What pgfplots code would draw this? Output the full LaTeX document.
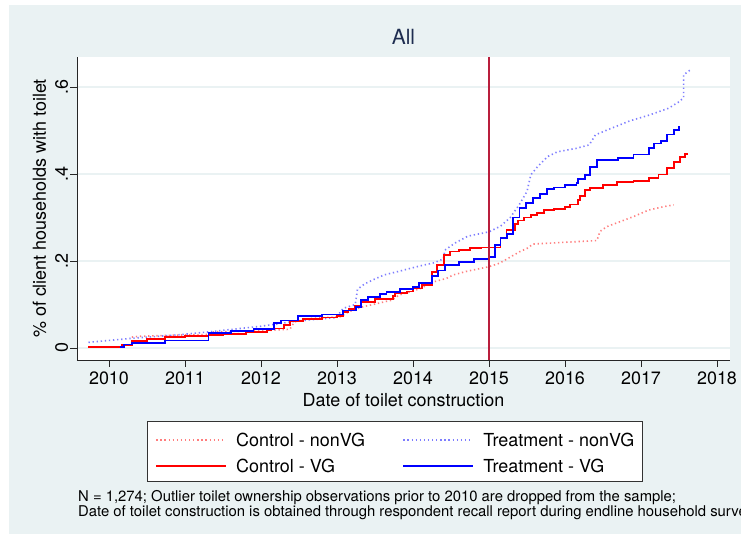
\documentclass[border=0pt]{standalone}
\usepackage{pgfplots}
\pgfplotsset{compat=1.18}
\usepackage{fontspec}
\setmainfont{TeX Gyre Heros}
\definecolor{bgc}{RGB}{234,242,243}
\definecolor{vline}{RGB}{185,30,60}
\definecolor{titlec}{RGB}{30,45,80}
\definecolor{lred}{RGB}{255,125,125}
\definecolor{lblue}{RGB}{125,125,255}
\begin{document}
\begin{tikzpicture}[x=1bp,y=1bp]
\useasboundingbox (-77,-177) rectangle (664,360);
\fill[bgc] (-68,-174) rectangle (664,355);
\begin{axis}[
 scale only axis, width=653bp, height=303bp,
 xmin=2009.579, xmax=2018.171, ymin=-0.0276, ymax=0.669,
 axis x line*=bottom, axis y line*=left,
 axis line style={-, black!85, line width=0.8bp},
 axis background/.style={fill=white},
 tick align=outside, major tick length=7bp,
 tick style={black!85, line width=0.8bp},
 xtick={2010,2011,...,2018},
 ytick={0,0.2,0.4,0.6}, yticklabels={0,.2,.4,.6},
 ymajorgrids, grid style={bgc, line width=1.5bp},
 x tick label style={/pgf/number format/1000 sep={}},
 /pgf/number format/assume math mode=true,
 tick label style={font=\fontsize{18}{20}\selectfont},
 xticklabel style={inner sep=0pt, anchor=north, yshift=-4.7bp},
 yticklabel style={inner sep=0pt, xshift=-2.2bp, rotate=90, anchor=base},
 every axis x label/.style={at={(rel axis cs:0.5,0)}, yshift=-46.7bp, anchor=base, font=\fontsize{18}{20}\selectfont},
 every axis y label/.style={at={(rel axis cs:0,0.5)}, xshift=-31bp, rotate=90, anchor=base, font=\fontsize{18}{20}\selectfont},
 every axis title/.style={at={(rel axis cs:0.5,1)}, yshift=12.7bp, anchor=base, font=\fontsize{21}{24}\selectfont, text=titlec},
 title={All},
 xlabel={Date of toilet construction},
 ylabel={\% of client households with toilet},
 legend columns=2, legend cell align=left,
 legend image code/.code={\draw[#1] (0bp,-1.5bp) -- (69.5bp,-1.5bp);},
 legend style={at={(rel axis cs:0.1072,-0.2013)}, anchor=north west,
   draw=black!80, line width=0.8bp, fill=white, inner xsep=8bp, inner ysep=8.9bp,
   font=\fontsize{18}{20}\selectfont, row sep=9.8bp,
   nodes={inner sep=0pt, text height=16.4bp, text depth=0pt},
   /tikz/every odd column/.append style={column sep=9.5bp},
   /tikz/every even column/.append style={column sep=37.5bp}},
]
% Control - nonVG
\addplot[lred, line width=1.6bp, dash pattern=on 1.3bp off 2.8bp] table {
x y
2010.30 0.025
2010.40 0.027
2011.00 0.030
2011.30 0.031
2011.35 0.037
2012.05 0.040
2012.38 0.043
2012.44 0.060
2012.65 0.068
2013.05 0.072
2013.15 0.083
2013.32 0.094
2013.45 0.099
2013.72 0.110
2013.82 0.122
2013.96 0.129
2014.10 0.137
2014.27 0.152
2014.44 0.160
2014.53 0.168
2014.70 0.176
2015.00 0.187
2015.14 0.195
2015.25 0.206
2015.40 0.221
2015.50 0.229
2015.58 0.239
2016.00 0.243
2016.42 0.247
2016.46 0.268
2016.55 0.279
2016.90 0.302
2017.10 0.317
2017.30 0.325
2017.43 0.329
};
\addlegendentry{Control - nonVG}
% Treatment - nonVG
\addplot[lblue, line width=1.6bp, dash pattern=on 1.3bp off 2.8bp] table {
x y
2009.73 0.013
2010.35 0.023
2010.90 0.030
2011.31 0.037
2012.00 0.050
2012.47 0.062
2012.99 0.070
2013.08 0.091
2013.24 0.100
2013.27 0.135
2013.36 0.147
2013.49 0.158
2013.62 0.168
2013.83 0.177
2014.10 0.189
2014.28 0.196
2014.40 0.205
2014.42 0.225
2014.55 0.241
2014.72 0.257
2015.00 0.267
2015.15 0.280
2015.28 0.300
2015.40 0.330
2015.50 0.360
2015.55 0.398
2015.64 0.417
2015.77 0.440
2015.90 0.451
2016.15 0.459
2016.32 0.467
2016.40 0.490
2016.58 0.503
2016.85 0.522
2017.10 0.535
2017.36 0.551
2017.50 0.566
2017.56 0.575
2017.56 0.628
2017.67 0.642
};
\addlegendentry{Treatment - nonVG}
% Control - VG
\addplot[red, line width=1.8bp, const plot] table {
x y
2009.73 0.002
2010.17 0.007
2010.30 0.016
2010.50 0.020
2010.74 0.025
2011.00 0.027
2011.31 0.030
2011.50 0.033
2011.80 0.036
2012.08 0.040
2012.13 0.045
2012.30 0.052
2012.38 0.062
2012.55 0.066
2012.80 0.070
2013.00 0.074
2013.08 0.083
2013.15 0.089
2013.24 0.097
2013.32 0.106
2013.50 0.112
2013.74 0.120
2013.76 0.126
2013.92 0.130
2014.00 0.137
2014.12 0.145
2014.25 0.175
2014.32 0.191
2014.41 0.214
2014.49 0.222
2014.60 0.226
2014.75 0.229
2014.90 0.231
2015.15 0.254
2015.23 0.271
2015.34 0.285
2015.38 0.293
2015.46 0.300
2015.55 0.306
2015.63 0.311
2015.72 0.318
2015.85 0.320
2016.00 0.325
2016.07 0.330
2016.17 0.340
2016.20 0.350
2016.26 0.363
2016.33 0.367
2016.50 0.374
2016.68 0.382
2016.90 0.384
2017.10 0.391
2017.23 0.399
2017.34 0.413
2017.43 0.427
2017.51 0.440
2017.58 0.446
2017.60 0.448
};
\addlegendentry{Control - VG}
% Treatment - VG
\addplot[blue, line width=1.8bp, const plot] table {
x y
2010.14 0.002
2010.20 0.008
2010.30 0.012
2010.74 0.017
2011.31 0.035
2011.60 0.039
2011.90 0.044
2012.17 0.058
2012.26 0.063
2012.49 0.073
2012.80 0.077
2013.08 0.086
2013.25 0.094
2013.32 0.110
2013.41 0.117
2013.57 0.125
2013.65 0.129
2013.83 0.135
2014.00 0.141
2014.08 0.149
2014.25 0.166
2014.33 0.178
2014.42 0.191
2014.60 0.197
2014.80 0.204
2015.00 0.210
2015.08 0.237
2015.15 0.252
2015.24 0.262
2015.32 0.300
2015.40 0.321
2015.49 0.334
2015.58 0.344
2015.67 0.354
2015.76 0.365
2015.85 0.369
2016.00 0.375
2016.15 0.379
2016.17 0.388
2016.26 0.398
2016.33 0.417
2016.42 0.432
2016.70 0.436
2016.90 0.445
2017.10 0.459
2017.17 0.470
2017.26 0.476
2017.34 0.491
2017.43 0.501
2017.50 0.511
};
\addlegendentry{Treatment - VG\hspace*{13bp}}
\addplot[vline, line width=1.5bp, forget plot] coordinates {(2015,-0.0276) (2015,0.669)};
\end{axis}
\begin{scope}
\clip (-77,-177) rectangle (664,360);
\node[anchor=base west, inner sep=0pt, font=\fontsize{14.9}{13}\selectfont] at (1,-142) {N = 1,274; Outlier toilet ownership observations prior to 2010 are dropped from the sample;};
\node[anchor=base west, inner sep=0pt, font=\fontsize{14.9}{13}\selectfont] at (1,-156.5) {Date of toilet construction is obtained through respondent recall report during endline household survey.};
\end{scope}
\end{tikzpicture}
\end{document}
